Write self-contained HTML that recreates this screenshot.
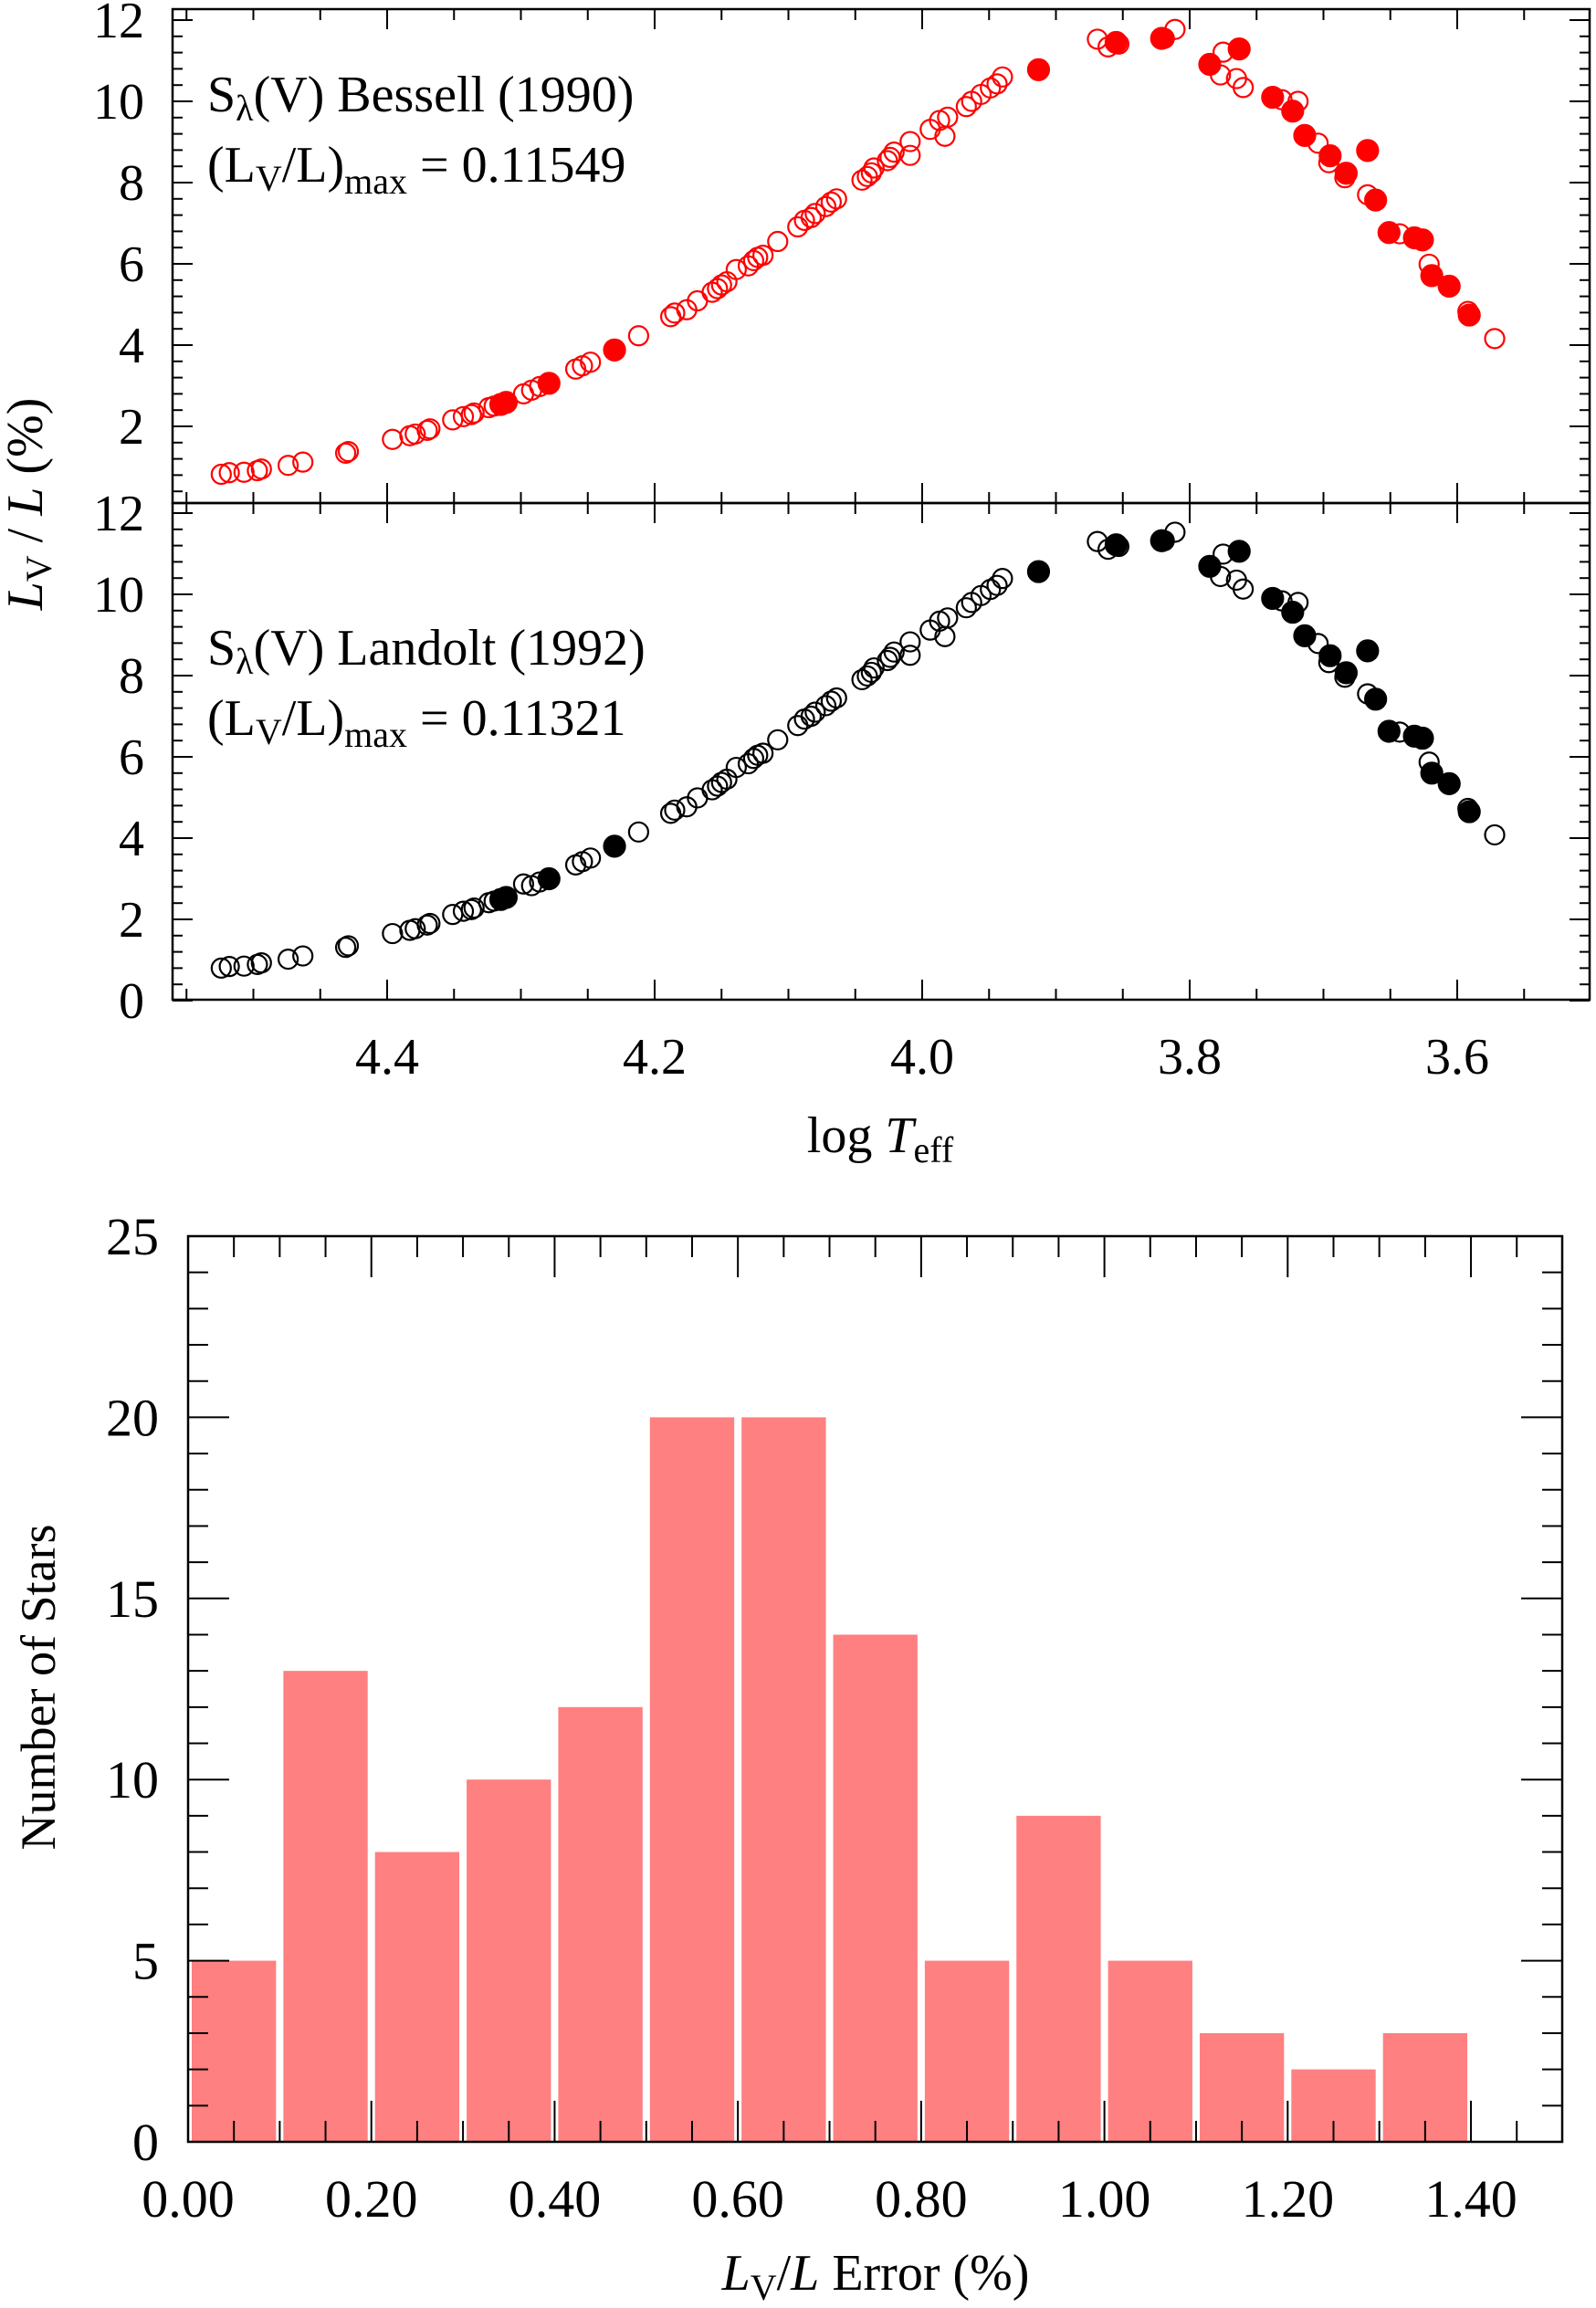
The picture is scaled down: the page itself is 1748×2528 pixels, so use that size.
<!DOCTYPE html>
<html><head><meta charset="utf-8"><style>
html,body{margin:0;padding:0;background:#fff;}
svg{display:block;font-family:"Liberation Serif",serif;}
</style></head><body>
<svg id="fig" width="1748" height="2528" viewBox="0 0 1748 2528">
<g id="top"></g>
<g id="bot"></g>
<g id="hist"></g>
<g id="ann">
<text x="227" y="122" font-size="56">S<tspan font-size="40" dy="10">λ</tspan><tspan dy="-10">(V) Bessell (1990)</tspan></text>
<text x="227" y="199" font-size="56">(L<tspan font-size="40" dy="10">V</tspan><tspan dy="-10">/L)</tspan><tspan font-size="40" dy="13">max</tspan><tspan dy="-13"> = 0.11549</tspan></text>
<text x="227" y="728" font-size="56">S<tspan font-size="40" dy="10">λ</tspan><tspan dy="-10">(V) Landolt (1992)</tspan></text>
<text x="227" y="805" font-size="56">(L<tspan font-size="40" dy="10">V</tspan><tspan dy="-10">/L)</tspan><tspan font-size="40" dy="13">max</tspan><tspan dy="-13"> = 0.11321</tspan></text>
<text transform="translate(46,552) rotate(-90)" text-anchor="middle" font-size="56"><tspan font-style="italic">L</tspan><tspan font-size="40" dy="10">V</tspan><tspan dy="-10"> / </tspan><tspan font-style="italic">L</tspan> (%)</text>
<text x="964" y="1262" text-anchor="middle" font-size="56">log <tspan font-style="italic">T</tspan><tspan font-size="40" dy="11">eff</tspan></text>
<text transform="translate(60,1848) rotate(-90)" text-anchor="middle" font-size="54">Number of Stars</text>
<text x="959" y="2508" text-anchor="middle" font-size="56"><tspan font-style="italic">L</tspan><tspan font-size="40" dy="11">V</tspan><tspan dy="-11">/</tspan><tspan font-style="italic">L</tspan> Error (%)</text>
</g>
</svg>
<script>
const logT=[4.524,4.518,4.507,4.497,4.494,4.474,4.463,4.431,4.429,4.396,4.383,4.379,4.370,4.368,4.351,4.343,4.337,4.335,4.324,4.320,4.315,4.311,4.298,4.292,4.286,4.279,4.259,4.254,4.248,4.230,4.212,4.188,4.185,4.176,4.168,4.157,4.153,4.150,4.146,4.139,4.130,4.126,4.123,4.119,4.108,4.093,4.088,4.083,4.080,4.072,4.068,4.064,4.045,4.041,4.038,4.036,4.026,4.024,4.021,4.009,4.009,3.994,3.987,3.983,3.981,3.967,3.963,3.956,3.949,3.944,3.940,3.913,3.869,3.861,3.853,3.855,3.819,3.821,3.811,3.775,3.763,3.785,3.777,3.765,3.760,3.738,3.731,3.719,3.723,3.714,3.704,3.695,3.696,3.683,3.684,3.667,3.667,3.661,3.651,3.643,3.632,3.626,3.621,3.619,3.606,3.592,3.591,3.572];
const filled=[0,0,0,0,0,0,0,0,0,0,0,0,0,0,0,0,0,0,0,0,1,1,0,0,0,1,0,0,0,1,0,0,0,0,0,0,0,0,0,0,0,0,0,0,0,0,0,0,0,0,0,0,0,0,0,0,0,0,0,0,0,0,0,0,0,0,0,0,0,0,0,1,0,0,0,1,0,1,0,0,1,1,0,0,0,1,0,0,1,1,0,1,0,1,0,1,0,1,1,0,1,1,0,1,1,0,1,0];
const bessell=[0.82,0.86,0.87,0.91,0.95,1.04,1.12,1.34,1.38,1.68,1.77,1.81,1.90,1.94,2.16,2.24,2.29,2.33,2.46,2.50,2.54,2.59,2.80,2.89,2.98,3.06,3.41,3.49,3.58,3.88,4.23,4.70,4.79,4.87,5.09,5.30,5.39,5.48,5.56,5.86,5.95,6.08,6.16,6.21,6.55,6.91,7.07,7.14,7.24,7.41,7.52,7.60,8.06,8.15,8.24,8.36,8.54,8.62,8.75,8.67,9.01,9.31,9.53,9.14,9.61,9.87,10.00,10.17,10.33,10.43,10.60,10.78,11.53,11.34,11.41,11.45,11.55,11.55,11.77,11.21,11.29,10.91,10.65,10.56,10.34,10.10,10.04,10.00,9.76,9.16,8.97,8.66,8.49,8.23,8.12,8.79,7.70,7.57,6.77,6.74,6.64,6.59,5.99,5.71,5.45,4.83,4.74,4.16];
const landolt=[0.80,0.84,0.85,0.89,0.93,1.02,1.10,1.31,1.35,1.65,1.73,1.77,1.86,1.90,2.12,2.20,2.24,2.28,2.41,2.45,2.49,2.54,2.87,2.83,2.92,3.00,3.34,3.42,3.51,3.80,4.15,4.61,4.69,4.77,4.99,5.19,5.28,5.37,5.45,5.74,5.83,5.96,6.04,6.09,6.42,6.77,6.93,7.00,7.10,7.26,7.37,7.45,7.90,7.99,8.08,8.19,8.37,8.45,8.58,8.50,8.83,9.12,9.34,8.96,9.42,9.67,9.80,9.97,10.12,10.22,10.39,10.56,11.30,11.11,11.18,11.22,11.32,11.32,11.53,10.99,11.06,10.69,10.44,10.35,10.13,9.90,9.84,9.80,9.56,8.98,8.79,8.49,8.32,8.07,7.96,8.61,7.55,7.42,6.63,6.61,6.51,6.46,5.87,5.60,5.34,4.73,4.65,4.08];
const xTicksT=[4.4,4.2,4.0,3.8,3.6];
const yTicksTop=[2,4,6,8,10,12];
const yTicksBot=[0,2,4,6,8,10,12];
const binStart=[0.0,0.1,0.2,0.3,0.4,0.5,0.6,0.7,0.8,0.9,1.0,1.1,1.2,1.3];
const counts=[5,13,8,10,12,20,20,14,5,9,5,3,2,3];
const xTicksH=[0.00,0.20,0.40,0.60,0.80,1.00,1.20,1.40];
const yTicksH=[0,5,10,15,20,25];

const NS='http://www.w3.org/2000/svg';
function mk(tag,attrs,parent){const e=document.createElementNS(NS,tag);for(const k in attrs)e.setAttribute(k,attrs[k]);parent.appendChild(e);return e;}
const L=189,R=1741;
const xT=t=>424+(4.4-t)/0.2*293;
function ln(g,x1,y1,x2,y2,w){mk('line',{x1,y1,x2,y2,stroke:'#000','stroke-width':w||2.5},g);}

function scatterPanel(g,top,bottom,zeroY,vals,ticks,color,showX,name){
  const yv=v=>zeroY-44.5*v;
  const fr=mk('rect',{x:L,y:top,width:R-L,height:bottom-top,fill:'none',stroke:'#000','stroke-width':2.5},g);
  
  
  for(let k=0;k<=31;k++){const v=k*0.4;const y=yv(v);if(y<top-1||y>bottom+1)continue;const maj=k%5===0;const len=maj?22:11;
    ln(g,L,y,L+len,y,2);ln(g,R,y,R-len,y,2);}
  for(let t=4.55;t>=3.5;t-=0.05){const x=xT(t);if(x<L||x>R)continue;const maj=Math.abs(t*5-Math.round(t*5))<0.01;const len=maj?22:12;
    ln(g,x,top,x,top+len,2);ln(g,x,bottom,x,bottom-len,2);}
  ticks.forEach(v=>{const t=mk('text',{x:158,y:yv(v)+19,'text-anchor':'end','font-size':56},g);t.textContent=v;
    
    });
  if(showX)xTicksT.forEach(v=>{const t=mk('text',{x:xT(v),y:1176,'text-anchor':'middle','font-size':56},g);t.textContent=v.toFixed(1);
    
    });
  vals.forEach((v,i)=>{const c=mk('circle',{cx:xT(logT[i]),cy:yv(v),r:filled[i]?11.5:10.5,fill:filled[i]?color:'none',stroke:color,'stroke-width':2.2},g);
    
    });
}
scatterPanel(document.getElementById('top'),10,551,556,bessell,yTicksTop,'#ff0000',false,'bessell');
scatterPanel(document.getElementById('bot'),551,1095,1096,landolt,yTicksBot,'#000000',true,'landolt');

// histogram
const hg=document.getElementById('hist');
const HL=206,HR=1711,HT=1354,HB=2346;
const xH=v=>HL+v*1003.6;
const yH=v=>HB-v*39.68;
counts.forEach((c,i)=>{const b=mk('rect',{x:xH(binStart[i])+4,y:yH(c),width:xH(0.1)-HL-8,height:HB-yH(c),fill:'#ff8080'},hg);
  
  });
const hf=mk('rect',{x:HL,y:HT,width:HR-HL,height:HB-HT,fill:'none',stroke:'#000','stroke-width':2.5},hg);


for(let v=0;v<=25;v++){const y=yH(v);const maj=v%5===0;const len=maj?45:22;ln(hg,HL,y,HL+len,y,2);ln(hg,HR,y,HR-len,y,2);}
for(let k=1;k<30;k++){const v=k*0.05;const x=xH(v);const maj=k%4===0;const len=maj?45:23;ln(hg,x,HT,x,HT+len,2);ln(hg,x,HB,x,HB-len,2);}
yTicksH.forEach(v=>{const t=mk('text',{x:174,y:yH(v)+20,'text-anchor':'end','font-size':58},hg);t.textContent=v;
  
  });
xTicksH.forEach(v=>{const t=mk('text',{x:xH(v),y:2428,'text-anchor':'middle','font-size':58},hg);t.textContent=v.toFixed(2);
  
  });
</script>
</body></html>
